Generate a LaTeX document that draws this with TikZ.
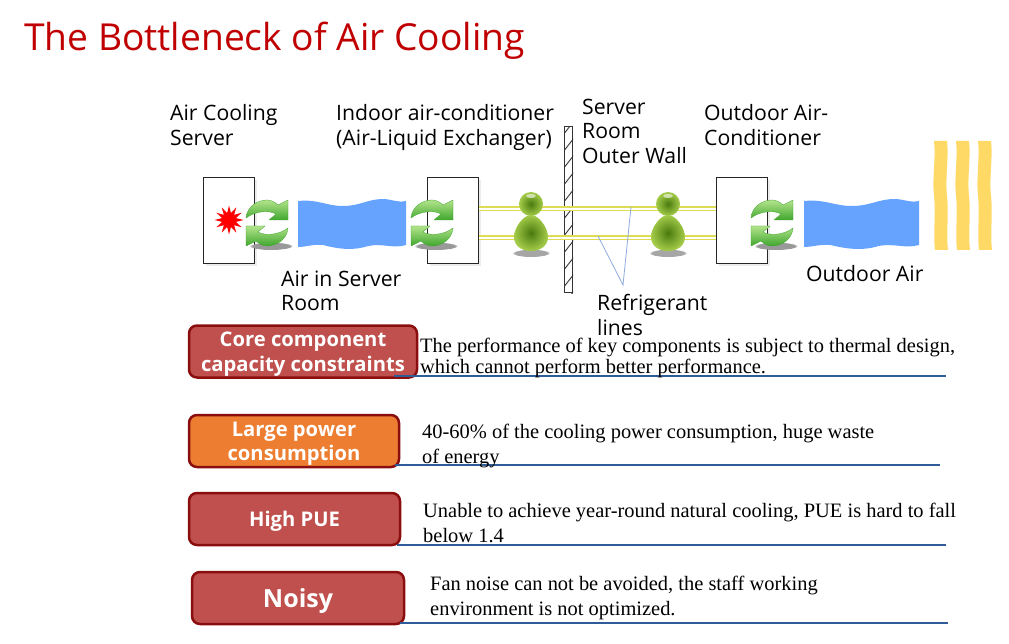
\documentclass[tikz,border=0pt]{standalone}
\usepackage{fontspec}
\setmainfont{Liberation Serif}
\newfontfamily\labelfont{Open Sans}
\usetikzlibrary{shapes.geometric,shadows,fadings}
\definecolor{titlered}{HTML}{C00000}
\definecolor{boxred}{HTML}{C0504D}
\definecolor{boxorange}{HTML}{ED7D31}
\definecolor{edgered}{HTML}{8B0E0E}
\definecolor{lineblue}{HTML}{2F5C96}
\definecolor{airblue}{HTML}{66A3FF}
\definecolor{heatyellow}{HTML}{FFD966}
\definecolor{pipeyellow}{HTML}{DDDD55}
\definecolor{pointerblue}{HTML}{8FAADC}
\definecolor{arrowlight}{HTML}{B4E48C}
\definecolor{arrowdark}{HTML}{3FA62E}
\definecolor{glassdark}{HTML}{4A7A0E}
\definecolor{glasslight}{HTML}{A4CC4A}
\tikzset{
  caption/.style={anchor=north west,inner sep=0pt,align=left,font=\labelfont\fontsize{21.2}{24.5}\selectfont},
  remark/.style={anchor=north west,inner sep=0pt,align=left,font=\fontsize{20.45}{21}\selectfont},
  remarkwide/.style={remark,font=\fontsize{20.45}{25}\selectfont},
  tagbox/.style={draw=edgered,line width=2.5pt,rounded corners=8pt,text=white,align=center,
    inner sep=0pt,font=\labelfont\bfseries\fontsize{20.2}{24.5}\selectfont},
  unitbox/.style={draw=black!85,line width=1pt,fill=white,minimum width=51pt,minimum height=86pt,inner sep=0pt,
    drop shadow={shadow xshift=2pt,shadow yshift=-2pt,opacity=.15}},
  pipe/.style={draw=pipeyellow,line width=1.5pt,double=white,double distance=2pt},
  pointer/.style={draw=pointerblue,line width=.8pt},
  underline/.style={draw=lineblue,line width=2.5pt},
  refresh/.pic={
    \fill[black!40,path fading=circle with fuzzy edge 15 percent] (4,23) ellipse (22 and 4);
    \foreach \turn in {0,180}
      \shade[rotate=\turn,top color=arrowlight,bottom color=arrowdark,draw=arrowdark,line width=.3pt]
        (-21,-5) .. controls (-20,-17) and (-9,-23) .. (0,-23)
        .. controls (4,-23) and (8,-21) .. (11,-18) -- (21,-23) -- (21,-3) -- (2,-3) -- (9,-9)
        .. controls (2,-13) and (-12,-12) .. (-21,-5) -- cycle;
  },
  person/.pic={
    \fill[black!35,path fading=circle with fuzzy edge 15 percent] (0,49) ellipse (19 and 4);
    \shade[inner color=glassdark,outer color=glasslight] (0,0) circle (12);
    \shade[inner color=glassdark,outer color=glasslight]
      (0,11) .. controls (8,11) and (17,24) .. (17,33)
      .. controls (17,42) and (9,47) .. (0,47)
      .. controls (-9,47) and (-17,42) .. (-17,33)
      .. controls (-17,24) and (-8,11) .. (0,11) -- cycle;
    \fill[white,opacity=.6] (0,-8) ellipse (5 and 2);
  },
  airwave/.pic={
    \fill[airblue] (0,2) .. controls (20,0) and (28,7) .. (45,7)
      .. controls (62,7) and (70,0) .. (85,0) .. controls (93,0) and (100,4) .. (108,2)
      -- (108,46) .. controls (95,50) and (85,44) .. (70,47)
      .. controls (55,52) and (40,50) .. (25,46) .. controls (15,45) and (8,48) .. (0,48) -- cycle;
  },
  heatstrip/.pic={
    \fill[heatyellow] (0,0) -- (13,0) .. controls (15,18) and (11,36) .. (13,55)
      .. controls (15,72) and (12,92) .. (14,109) -- (1,109)
      .. controls (-1,92) and (2,72) .. (0,55) .. controls (-2,36) and (2,18) .. (0,0) -- cycle;
  }
}
\begin{document}
\begin{tikzpicture}[x=1pt,y=-1pt]
  \useasboundingbox (0,0) rectangle (1009,644);
  \draw (24,22) node[anchor=north west,inner sep=0pt,text=titlered,font=\labelfont\fontsize{37.2}{44}\selectfont] (title){The Bottleneck of Air Cooling};
  % captions
  \draw
    (170,104.5) node[caption] (servercap){Air Cooling\\Server}
    (336,104.5) node[caption] (indoorcap){Indoor air-conditioner\\(Air-Liquid Exchanger)}
    (582,98.5) node[caption] (wallcap){Server\\Room\\Outer Wall}
    (704,104.5) node[caption] (outdoorcap){Outdoor Air-\\Conditioner}
    (281,270.5) node[caption] (aircap){Air in Server\\Room}
    (806,265.5) node[caption] (outaircap){Outdoor Air}
    (597,294.5) node[caption] (linescap){Refrigerant\\lines};
  % units and wall
  \draw
    (229,221) node[unitbox] (server){}
    (453,221) node[unitbox] (indoor){}
    (742,221) node[unitbox] (outdoor){};
  \draw (229,220) node[star,star points=12,star point ratio=2,fill=red,minimum size=29pt,inner sep=0pt] (hotspot){};
  \draw[line width=1pt,draw=black!80] (568.5,210) node[minimum width=8pt,minimum height=166pt,inner sep=0pt,draw=black!80,fill=white] (wall){};
  \begin{scope}
    \clip (wall.north west) rectangle (wall.south east);
    \foreach \hy in {135,152,...,305}
      \draw[line width=.9pt,black!80] (563,\hy) -- (574,\hy-14);
  \end{scope}
  % refrigerant lines
  \draw
    (indoor.east |- 0,209) coordinate (upperin)
    (outdoor.west |- 0,209) coordinate (upperout)
    (indoor.east |- 0,238) coordinate (lowerin)
    (outdoor.west |- 0,238) coordinate (lowerout)
    (631,207) coordinate (upperhit)
    (598,236) coordinate (lowerhit)
    (623,285) coordinate (linestip);
  \draw[pipe] (upperin) to (upperout);
  \draw[pipe] (lowerin) to (lowerout);
  \draw[pointer] (lowerhit) -- (linestip) -- (upperhit);
  % icons
  \draw (267,223) pic {refresh};
  \draw (432,223) pic {refresh};
  \draw (772,223) pic {refresh};
  \draw (531,204) pic {person};
  \draw (668,204) pic {person};
  \draw (298,199) pic {airwave};
  \draw (804,199) pic[xscale=1.065] {airwave};
  \foreach \sx in {934,956,978}
    \draw (\sx,141) pic {heatstrip};
  % tags
  \draw
    (303,351.5) node[tagbox,fill=boxred,minimum width=228pt,minimum height=52pt] (core){\rule{0pt}{19.5pt}Core component\\capacity constraints}
    (294,441) node[tagbox,fill=boxorange,minimum width=210pt,minimum height=52pt] (power){\rule{0pt}{19.5pt}Large power\\consumption}
    (294.5,519) node[tagbox,fill=boxred,minimum width=211pt,minimum height=52pt] (pue){\rule{0pt}{19.5pt}High PUE}
    (298,598) node[tagbox,fill=boxred,minimum width=212pt,minimum height=52pt,font=\labelfont\bfseries\fontsize{25}{29}\selectfont] (noisy){\rule{0pt}{25pt}Noisy};
  \draw
    (394,376) coordinate (coreleft) (946,376) coordinate (coreright)
    (395,465) coordinate (powerleft) (940,465) coordinate (powerright)
    (397,545) coordinate (pueleft) (946,545) coordinate (pueright)
    (400,623) coordinate (noisyleft) (948,623) coordinate (noisyright);
  \begin{scope}[underline]
    \draw (coreleft) to (coreright);
    \draw (powerleft) to (powerright);
    \draw (pueleft) to (pueright);
    \draw (noisyleft) to (noisyright);
  \end{scope}
  % remarks
  \draw
    (420,338) node[remark] (coretext){The performance of key components is subject to thermal design,\\which cannot perform better performance.}
    (422,424) node[remarkwide] (powertext){40-60\% of the cooling power consumption, huge waste\\of energy}
    (423,503) node[remarkwide] (puetext){Unable to achieve year-round natural cooling, PUE is hard to fall\\below 1.4}
    (430,576) node[remarkwide] (noisytext){Fan noise can not be avoided, the staff working\\environment is not optimized.};
\end{tikzpicture}
\end{document}
